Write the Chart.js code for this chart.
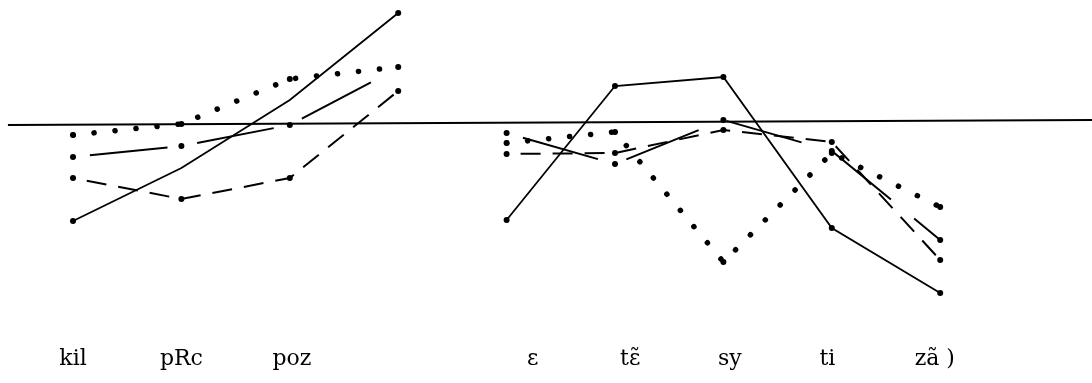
<!DOCTYPE html>
<html>
<head>
<meta charset="utf-8">
<script src="https://cdn.jsdelivr.net/npm/chart.js@4"></script>
<style>
  html, body { margin: 0; padding: 0; background: #ffffff; }
  #wrap { width: 1092px; height: 383px; }
</style>
</head>
<body>
<div id="wrap"><canvas id="c" width="1092" height="383"></canvas></div>
<script>
// Syllable slots along the utterance: phrase one uses slots 0-3, phrase two 4-8
const leftSlots  = [0, 1, 2, 3];
const rightSlots = [4, 5, 6, 7, 8];

// Syllable labels and where they sit along the slot axis
const syllables  = ['kil', 'pRc', 'poz', 'ε', 'tε̃', 'sy', 'ti', 'zã )'];
const syllableAt = [0, 1, 2.02, 4.24, 5.14, 6.06, 6.96, 7.95];

// Pitch relative to the reference level (0), phrase one
const solidLeft    = [-9.6, -4.3, 2.5, 11.2];
const dottedLeft   = [-1.0, 0.1, 4.6, 5.8];
const longDashLeft = [-3.2, -2.1, 0.0, 5.7];
const dashedLeft   = [-5.3, -7.4, -5.3, 3.4];

// Pitch relative to the reference level (0), phrase two
const solidRight    = [-9.5, 3.9, 4.8, -10.3, -16.8];
const dottedRight   = [-1.8, -0.7, -13.7, -2.8, -8.2];
const longDashRight = [-0.8, -3.9, 0.5, -2.6, -11.5];
const dashedRight   = [-2.9, -2.8, -0.5, -1.7, -13.5];

// Reference level drawn across the whole width
const refX = [-0.6, 9.41];
const refY = [0.0, 0.5];

const labelY = -24.0;

function join(left, right) {
  const pts = left.map((v, i) => ({ x: leftSlots[i], y: v }));
  pts.push({ x: 3.5, y: null });           // break between the two phrases
  right.forEach((v, i) => pts.push({ x: rightSlots[i], y: v }));
  return pts;
}

const base = {
  borderColor: '#000', backgroundColor: '#000',
  pointBackgroundColor: '#000', pointBorderColor: '#000', pointBorderWidth: 0,
  tension: 0, spanGaps: false, fill: false, clip: false
};

const datasets = [
  Object.assign({}, base, {
    label: 'reference',
    data: refX.map((x, i) => ({ x, y: refY[i] })),
    borderWidth: 2, pointRadius: 0
  }),
  Object.assign({}, base, {
    label: 'solid',
    data: join(solidLeft, solidRight),
    borderWidth: 1.8,
    pointRadius: [3, 0, 0, 3, 0, 3, 3, 3, 3, 3]
  }),
  Object.assign({}, base, {
    label: 'dotted',
    data: join(dottedLeft, dottedRight),
    borderWidth: 5.5, borderDash: [0.1, 21], borderCapStyle: 'round',
    pointRadius: [3, 3, 3, 3, 0, 3, 3, 3, 3, 3]
  }),
  Object.assign({}, base, {
    label: 'long dash',
    data: join(longDashLeft, longDashRight),
    borderWidth: 2, borderDash: [78, 30], borderDashOffset: -17,
    pointRadius: [3, 3, 3, 0, 0, 3, 3, 3, 3, 3]
  }),
  Object.assign({}, base, {
    label: 'dashed',
    data: join(dashedLeft, dashedRight),
    borderWidth: 2, borderDash: [20, 12], borderDashOffset: -14,
    pointRadius: [3, 3, 3, 3, 0, 3, 3, 3, 3, 3]
  })
];

const syllableLabels = {
  id: 'syllableLabels',
  afterDatasetsDraw(chart) {
    const { ctx, scales } = chart;
    ctx.save();
    ctx.fillStyle = '#000';
    ctx.font = '22px "DejaVu Serif", "Liberation Serif", serif';
    ctx.textAlign = 'center';
    ctx.textBaseline = 'alphabetic';
    const y = scales.y.getPixelForValue(labelY);
    syllables.forEach((s, i) => {
      ctx.fillText(s, scales.x.getPixelForValue(syllableAt[i]), y);
    });
    ctx.restore();
  }
};

new Chart(document.getElementById('c'), {
  type: 'line',
  data: { datasets },
  options: {
    responsive: false,
    animation: false,
    layout: { padding: 0, autoPadding: false },
    plugins: { legend: { display: false }, tooltip: { enabled: false } },
    scales: {
      x: { type: 'linear', display: false, min: -0.6734, max: 9.4004 },
      y: { type: 'linear', display: false, min: -25.8, max: 12.5 }
    }
  },
  plugins: [syllableLabels]
});
</script>
</body>
</html>
